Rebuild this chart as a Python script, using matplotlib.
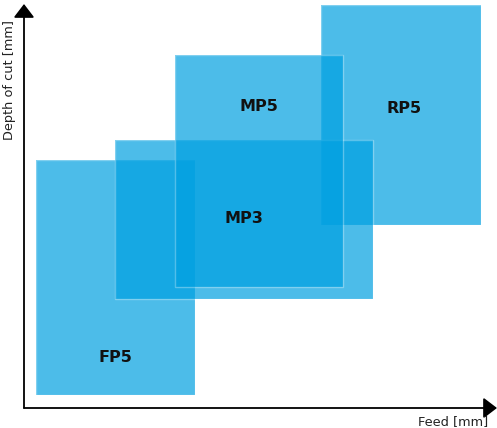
import matplotlib.pyplot as plt
from matplotlib.patches import Rectangle

# chart regions (feed from, feed to, depth from, depth to) in arbitrary units
names = ["FP5", "RP5", "MP3", "MP5"]
feed_lo = [12, 297, 91, 151]
feed_hi = [171, 457, 349, 319]
depth_lo = [13, 183, 109, 121]
depth_hi = [248, 403, 268, 353]
label_x = [91, 380, 220, 235]
label_y = [51, 300, 190, 302]

fig = plt.figure(figsize=(4.97, 4.28), dpi=100)
ax = fig.add_axes([0, 0, 1, 1])
ax.set_xlim(-24, 473)
ax.set_ylim(-20, 408)
ax.axis("off")

for i, n in enumerate(names):
    ax.add_patch(Rectangle((feed_lo[i], depth_lo[i]), feed_hi[i] - feed_lo[i],
                           depth_hi[i] - depth_lo[i], facecolor="#00A0E1",
                           alpha=0.7, edgecolor="none"))
    ax.add_patch(Rectangle((feed_lo[i], depth_lo[i]), feed_hi[i] - feed_lo[i],
                           depth_hi[i] - depth_lo[i], facecolor="none",
                           edgecolor="white", lw=1, alpha=0.3))
    ax.text(label_x[i], label_y[i], n, ha="center", va="center",
            fontsize=11.5, fontweight="bold", color="#111111")

# axes with arrow heads
arrow = dict(arrowstyle="-|>,head_length=0.55,head_width=0.42", color="black",
             lw=1.3, mutation_scale=15, shrinkA=0, shrinkB=0)
ax.annotate("", xy=(473, 0), xytext=(0, 0), arrowprops=arrow)
ax.annotate("", xy=(0, 404), xytext=(0, 0), arrowprops=arrow)

ax.text(-14, 328, "Depth of cut [mm]", rotation=90, ha="center", va="center",
        fontsize=9.3, color="#222222")
ax.text(464, -14, "Feed [mm]", ha="right", va="center",
        fontsize=9.3, color="#222222")

fig.savefig("out.png", dpi=100)
